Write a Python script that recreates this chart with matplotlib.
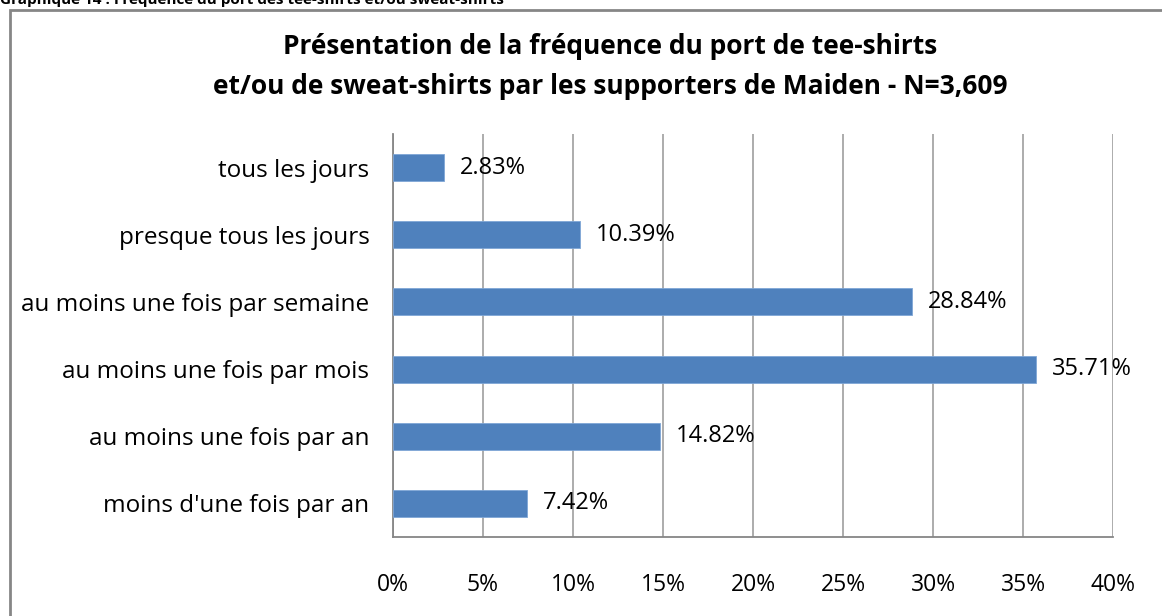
import numpy as np
import matplotlib.pyplot as plt
from matplotlib.patches import Rectangle

categories = ["tous les jours", "presque tous les jours", "au moins une fois par semaine",
              "au moins une fois par mois", "au moins une fois par an", "moins d'une fois par an"]
values = [2.83, 10.39, 28.84, 35.71, 14.82, 7.42]
xticks = [0, 5, 10, 15, 20, 25, 30, 35, 40]

font = "Open Sans"
plt.rcParams['font.family'] = [font, 'DejaVu Sans']

W, H = 1162, 616
fig = plt.figure(figsize=(W / 100, H / 100), dpi=100)
ax = fig.add_axes([393 / W, 1 - 537 / H, (1113 - 393) / W, (537 - 134) / H])

y = np.arange(len(categories))
ax.barh(y, values, height=0.4, color="#4f81bd", edgecolor="#7fa6d6", linewidth=0.6, zorder=3)
for yi, v in zip(y, values):
    ax.text(v + 0.9, yi, "{:.2f}%".format(v), va="center", ha="left", fontsize=17, zorder=4)

ax.set_ylim(len(categories) - 0.5, -0.5)
ax.set_yticks(y)
ax.set_yticklabels(categories, fontsize=17.5)
ax.set_xlim(0, 40)
ax.set_xticks(xticks)
ax.set_xticklabels(["{}%".format(t) for t in xticks], fontsize=16.5)
ax.tick_params(axis="y", length=0, pad=17)
ax.tick_params(axis="x", length=0, pad=26)
ax.grid(axis="x", color="#a6a6a6", linewidth=1.3, zorder=0)
for s in ["top", "right"]:
    ax.spines[s].set_visible(False)
for s in ["left", "bottom"]:
    ax.spines[s].set_color("#868686")
    ax.spines[s].set_linewidth(1.3)

fig.text(610 / W, 1 - 47 / H, "Présentation de la fréquence du port de tee-shirts",
         ha="center", va="center", fontsize=19, fontweight="bold")
fig.text(610 / W, 1 - 87 / H, "et/ou de sweat-shirts par les supporters de Maiden - N=3,609",
         ha="center", va="center", fontsize=19, fontweight="bold")

fig.text(0, 1 - 4 / H, "Graphique 14 : Fréquence du port des tee-shirts et/ou sweat-shirts",
         ha="left", va="baseline", fontsize=11, fontweight="bold")

fig.patches.append(Rectangle((9.5 / W, -0.1), 1.2, 1 - 9.5 / H + 0.1, transform=fig.transFigure,
                             fill=False, edgecolor="#868686", linewidth=2))

fig.savefig("out.png", dpi=100)
